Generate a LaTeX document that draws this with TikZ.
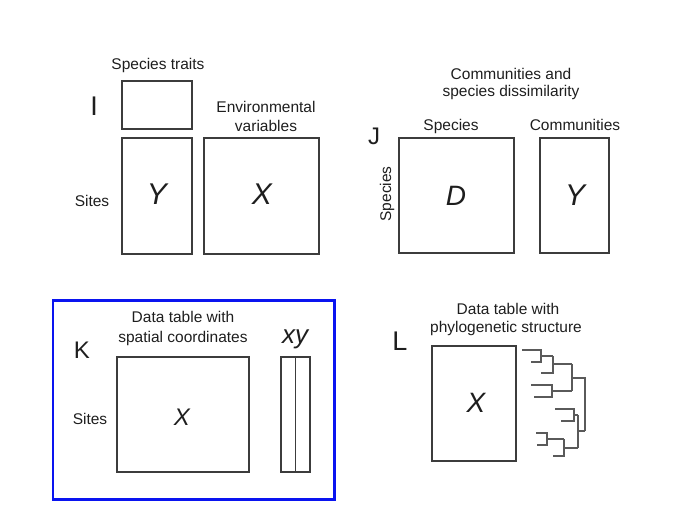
\documentclass[tikz,border=0pt]{standalone}
\usepackage{fontspec}
\setmainfont{Liberation Sans}
\definecolor{boxgray}{HTML}{3C3C3C}
\definecolor{treegray}{HTML}{5A5A5A}
\definecolor{txt}{HTML}{1E1E1E}
\definecolor{frameblue}{HTML}{0A14F0}
\begin{document}
\begin{tikzpicture}[x=1pt,y=-1pt,
  tbl/.style={draw=boxgray, line width=1.2pt, inner sep=0pt, outer sep=0pt, anchor=north west},
  lbl/.style={anchor=base, inner sep=0pt, text=txt, font=\fontsize{15.5}{18}\selectfont},
  plet/.style={anchor=base, inner sep=0pt, text=txt, font=\fontsize{#1}{#1}\selectfont},
  mlet/.style={anchor=base, inner sep=0pt, text=txt, font=\fontsize{#1}{#1}\selectfont\itshape},
  treeline/.style={draw=treegray, line width=1.1pt}]
\useasboundingbox (0,0) rectangle (680,529);

% ---------- Panel I ----------
\node[plet=27] (labI) at (94,116) {I};
\node[lbl] (tSpT) at (158,70) {Species traits};
\node[lbl] (tEnv1) at (266,113) {Environmental};
\node[lbl] (tEnv2) at (266,132) {variables};
\node[lbl] (tSitesI) at (92,207) {Sites};
\node[tbl, minimum width=70pt, minimum height=48pt] (st) at (122,81) {};
\node[tbl, minimum width=70pt, minimum height=116pt] (yI) at (122,138) {};
\node[tbl, minimum width=115pt, minimum height=116pt] (xI) at (204,138) {};
\node[mlet=30] (lYI) at (157,205) {Y};
\node[mlet=30] (lXI) at (262,205) {X};

% ---------- Panel J ----------
\node[plet=24] (labJ) at (374,145) {J};
\node[lbl] (tCom1) at (511,80) {Communities and};
\node[lbl] (tCom2) at (511,97) {species dissimilarity};
\node[lbl] (tSpJ) at (451,131) {Species};
\node[lbl] (tComJ) at (575,131) {Communities};
\node[lbl, rotate=90] (tSpRot) at (391,194) {Species};
\node[tbl, minimum width=115pt, minimum height=115pt] (dJ) at (399,138) {};
\node[tbl, minimum width=69pt, minimum height=115pt] (yJ) at (540,138) {};
\node[mlet=28] (lDJ) at (456,206) {D};
\node[mlet=30] (lYJ) at (575,206) {Y};

% ---------- Panel K ----------
\node[draw=frameblue, line width=2.8pt, inner sep=0pt, outer sep=0pt, anchor=north west,
      minimum width=281.5pt, minimum height=199pt] (frameK) at (53,300.5) {};
\node[plet=24] (labK) at (82,358) {K};
\node[lbl] (tDat1) at (183,323) {Data table with};
\node[lbl] (tDat2) at (183,342) {spatial coordinates};
\node[mlet=26] (lxy) at (295,343) {xy};
\node[lbl] (tSitesK) at (90,424) {Sites};
\node[tbl, minimum width=132pt, minimum height=115pt] (xK) at (117,357) {};
\node[tbl, minimum width=29pt, minimum height=115pt] (xyK) at (281,357) {};
\draw[draw=boxgray, line width=1.2pt] (xyK.north) -- (xyK.south);
\node[mlet=24] (lXK) at (182,425) {X};

% ---------- Panel L ----------
\node[plet=27] (labL) at (400,350) {L};
\node[lbl] (tPhy1) at (508,315) {Data table with};
\node[lbl] (tPhy2) at (506,333) {phylogenetic structure};
\node[tbl, minimum width=84pt, minimum height=115pt] (xL) at (432,346) {};
\node[mlet=28] (lXL) at (476,412) {X};

% phylogenetic tree
\draw[treeline] (522,350) -- (541,350) -- (541,362) -- (531,362);
\draw[treeline] (541,356) -- (553,356);
\draw[treeline] (541,373) -- (553,373) -- (553,356);
\draw[treeline] (553,364) -- (572,364);
\draw[treeline] (531,385) -- (552,385) -- (552,397) -- (534,397);
\draw[treeline] (552,391) -- (572,391);
\draw[treeline] (572,364) -- (572,391);
\draw[treeline] (572,378) -- (585,378) -- (585,431);
\draw[treeline] (555,409) -- (574,409) -- (574,421) -- (561,421);
\draw[treeline] (574,415) -- (578,415);
\draw[treeline] (536,433) -- (547,433) -- (547,445) -- (537,445);
\draw[treeline] (547,439) -- (564,439);
\draw[treeline] (553,456) -- (564,456) -- (564,439);
\draw[treeline] (564,448) -- (578,448);
\draw[treeline] (578,415) -- (578,448);
\draw[treeline] (578,431) -- (585,431);
\end{tikzpicture}
\end{document}
